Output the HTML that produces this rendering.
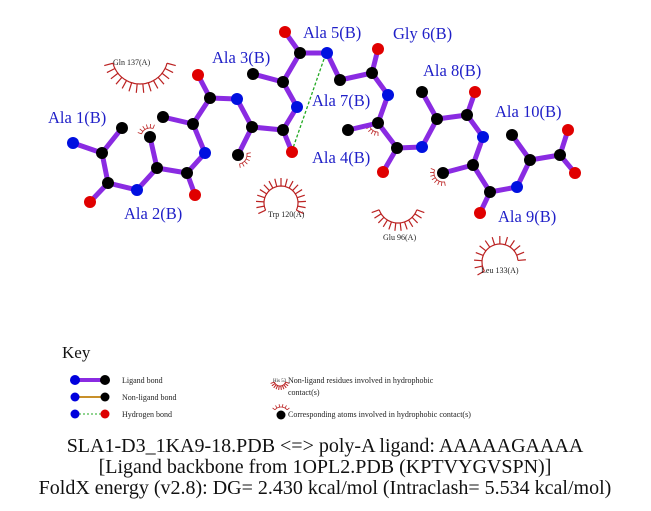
<!DOCTYPE html>
<html><head><meta charset="utf-8"><style>
body{margin:0;background:#fff;width:651px;height:511px;overflow:hidden}
svg{display:block}
text{font-family:"Liberation Serif",serif}
.lb{fill:#2020c8;font-size:16.5px}
.rs{fill:#222;font-size:8px}
</style></head><body>
<svg id="s" width="651" height="511" viewBox="0 0 651 511" xmlns="http://www.w3.org/2000/svg">
<g id="arcs" stroke="#b22" fill="none" stroke-width="1"></g>
<line x1="324" y1="59" x2="293" y2="148" stroke="#2a2" stroke-width="1.3" stroke-dasharray="3,2"/>
<g id="bonds" stroke="#8a2be2" stroke-width="5" stroke-linecap="round"></g>
<g id="atoms"></g>
<text class="lb" x="48" y="123">Ala 1(B)</text>
<text class="lb" x="124" y="219">Ala 2(B)</text>
<text class="lb" x="212" y="63">Ala 3(B)</text>
<text class="lb" x="303" y="38">Ala 5(B)</text>
<text class="lb" x="393" y="39">Gly 6(B)</text>
<text class="lb" x="423" y="76">Ala 8(B)</text>
<text class="lb" x="312" y="106">Ala 7(B)</text>
<text class="lb" x="312" y="163">Ala 4(B)</text>
<text class="lb" x="495" y="117">Ala 10(B)</text>
<text class="lb" x="498" y="222">Ala 9(B)</text>
<text class="rs" x="113" y="65">Gln 137(A)</text>
<text class="rs" x="268" y="217">Trp 120(A)</text>
<text class="rs" x="383" y="240">Glu 96(A)</text>
<text class="rs" x="481" y="273">Leu 133(A)</text>
<text x="62" y="358" font-size="17" fill="#111">Key</text>
<line x1="75" y1="380" x2="105" y2="380" stroke="#8a2be2" stroke-width="4"/>
<circle cx="75" cy="380" r="5" fill="#00d"/><circle cx="105" cy="380" r="5" fill="#000"/>
<line x1="75" y1="397" x2="105" y2="397" stroke="#c8902a" stroke-width="2"/>
<circle cx="75" cy="397" r="4.5" fill="#00d"/><circle cx="105" cy="397" r="4.5" fill="#000"/>
<line x1="75" y1="414" x2="105" y2="414" stroke="#2a2" stroke-width="1" stroke-dasharray="2,2"/>
<circle cx="75" cy="414" r="4.5" fill="#00d"/><circle cx="105" cy="414" r="4.5" fill="#d00"/>
<text x="122" y="383" font-size="8" fill="#222">Ligand bond</text>
<text x="122" y="400" font-size="8" fill="#222">Non-ligand bond</text>
<text x="122" y="417" font-size="8" fill="#222">Hydrogen bond</text>
<text x="273" y="382" font-size="5" fill="#222">His 53</text>
<text x="288" y="383" font-size="8" fill="#222">Non-ligand residues involved in hydrophobic</text>
<text x="288" y="395" font-size="8" fill="#222">contact(s)</text>
<circle cx="281" cy="415" r="4.5" fill="#000"/>
<text x="288" y="417" font-size="8" fill="#222">Corresponding atoms involved in hydrophobic contact(s)</text>
<text x="325" y="452" font-size="20" text-anchor="middle" fill="#111">SLA1-D3_1KA9-18.PDB &lt;=&gt; poly-A ligand: AAAAAGAAAA</text>
<text x="325" y="473" font-size="20" text-anchor="middle" fill="#111">[Ligand backbone from 1OPL2.PDB (KPTVYGVSPN)]</text>
<text x="325" y="494" font-size="20" text-anchor="middle" fill="#111">FoldX energy (v2.8): DG= 2.430 kcal/mol (Intraclash= 5.534 kcal/mol)</text>
</svg>
<script>
var A={N1:[73,143,'b'],CA1:[102,153,'k'],CB1:[122,128,'k'],C1:[108,183,'k'],O1:[90,202,'r'],
N2:[137,190,'b'],CA2:[157,168,'k'],CB2:[150,137,'k'],C2:[187,173,'k'],O2:[195,195,'r'],
N3:[205,153,'b'],CA3:[193,124,'k'],CB3:[163,117,'k'],C3:[210,98,'k'],O3:[198,75,'r'],
N4:[237,99,'b'],CA4:[252,127,'k'],CB4:[238,155,'k'],C4:[283,130,'k'],O4:[292,152,'r'],
N5:[297,107,'b'],CA5:[283,82,'k'],CB5:[253,74,'k'],C5:[300,53,'k'],O5:[285,32,'r'],
N6:[327,53,'b'],CA6:[340,80,'k'],C6:[372,73,'k'],O6:[378,49,'r'],
N7:[388,95,'b'],CA7:[378,123,'k'],CB7:[348,130,'k'],C7:[397,148,'k'],O7:[383,172,'r'],
N8:[422,147,'b'],CA8:[437,119,'k'],CB8:[422,92,'k'],C8:[467,115,'k'],O8:[475,92,'r'],
N9:[483,137,'b'],CA9:[473,165,'k'],CB9:[443,173,'k'],C9:[490,192,'k'],O9:[480,213,'r'],
N10:[517,187,'b'],CA10:[530,160,'k'],CB10:[512,135,'k'],C10:[560,155,'k'],OA:[568,130,'r'],OB:[575,173,'r']};
var B=[['N1','CA1'],['CA1','CB1'],['CA1','C1'],['C1','O1'],['C1','N2'],['N2','CA2'],['CA2','CB2'],['CA2','C2'],['C2','O2'],['C2','N3'],['N3','CA3'],['CA3','CB3'],['CA3','C3'],['C3','O3'],['C3','N4'],['N4','CA4'],['CA4','CB4'],['CA4','C4'],['C4','O4'],['C4','N5'],['N5','CA5'],['CA5','CB5'],['CA5','C5'],['C5','O5'],['C5','N6'],['N6','CA6'],['CA6','C6'],['C6','O6'],['C6','N7'],['N7','CA7'],['CA7','CB7'],['CA7','C7'],['C7','O7'],['C7','N8'],['N8','CA8'],['CA8','CB8'],['CA8','C8'],['C8','O8'],['C8','N9'],['N9','CA9'],['CA9','CB9'],['CA9','C9'],['C9','O9'],['C9','N10'],['N10','CA10'],['CA10','CB10'],['CA10','C10'],['C10','OA'],['C10','OB']];
var NS='http://www.w3.org/2000/svg';
function el(p,t,a){var e=document.createElementNS(NS,t);for(var k in a)e.setAttribute(k,a[k]);document.getElementById(p).appendChild(e);}
B.forEach(function(b){var p=A[b[0]],q=A[b[1]];el('bonds','line',{x1:p[0],y1:p[1],x2:q[0],y2:q[1]});});
var col={b:'#0010e0',k:'#000',r:'#e00000'};
for(var k in A){var a=A[k];el('atoms','circle',{cx:a[0],cy:a[1],r:6,fill:col[a[2]]});}
function arc(cx,cy,r1,r2,a0,a1,n,w){var d='',rad=Math.PI/180;
 for(var i=0;i<=40;i++){var t=(a0+(a1-a0)*i/40)*rad;d+=(i?'L':'M')+(cx+r1*Math.cos(t)).toFixed(1)+' '+(cy+r1*Math.sin(t)).toFixed(1);}
 el('arcs','path',{d:d,'stroke-width':w||1.2});
 for(var i=0;i<n;i++){var t=(a0+(a1-a0)*i/(n-1))*rad;
 el('arcs','line',{x1:cx+r1*Math.cos(t),y1:cy+r1*Math.sin(t),x2:cx+r2*Math.cos(t),y2:cy+r2*Math.sin(t),'stroke-width':w||1.2});}}
arc(140,56,28,37,15,165,14);
arc(281,203,17,25,155,385,17);
arc(398,203,20,28,20,160,12);
arc(500,262,18,26,150,355,13);
arc(150,137,9,13,200,290,6,0.8);
arc(238,155,9,13,-10,80,6,0.8);
arc(378,123,9,13,90,170,6,0.8);
arc(443,173,9,13,80,200,8,0.8);
arc(281,415,8,11,220,320,6,0.8);
arc(280,380,6,10,20,160,10,1);
</script>
</body></html>
